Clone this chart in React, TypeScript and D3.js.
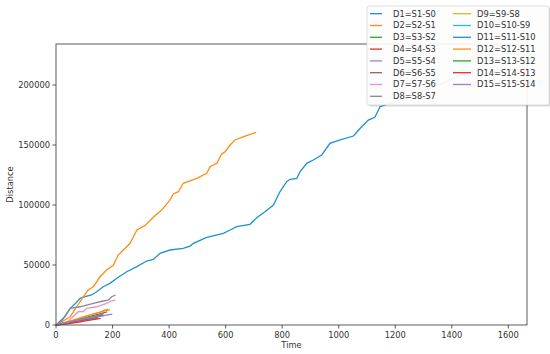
import React from "react";
import * as d3 from "d3";

// series: [time, distance]
const D1 = [[0,0],[26,5600],[50,13900],[67,17500],[85,22200],[103,23600],[126,25000],[144,27700],[167,31900],[191,34700],[215,38900],[250,44400],[286,48600],[321,53300],[344,54700],[368,59700],[403,62500],[450,63900],[474,65800],[486,68100],[533,73100],[592,76400],[616,79200],[639,81900],[686,83900],[710,89400],[739,94400],[769,100000],[792,111000],[816,119400],[828,121400],[852,122200],[863,127700],[887,134700],[910,137500],[940,141700],[969,151400],[1005,154200],[1052,157500],[1081,165200],[1105,170800],[1128,173100],[1146,181900],[1182,184700],[1250,190000],[1350,200000],[1450,210000],[1587,223000]];
const D2 = [[0,0],[14,1700],[50,6900],[73,15200],[97,23600],[114,29200],[132,31900],[156,40200],[179,45800],[203,50000],[220,58300],[238,62500],[262,68100],[286,79200],[315,83000],[345,90000],[374,95800],[403,104200],[415,109200],[433,111100],[450,118100],[498,122200],[533,126400],[545,131900],[569,134700],[586,142500],[598,144400],[616,150000],[633,154200],[669,157500],[708,160600]];
const D3 = [[0,0],[30,1500],[60,3000],[100,4500],[146,5500]];
const D4 = [[0,0],[40,1000],[80,2500],[120,4000],[158,5500]];
const D5 = [[0,0],[40,2000],[80,4500],[120,6500],[160,8000]];
const D6 = [[0,0],[50,3000],[100,6000],[150,9000],[181,11000]];
const D7 = [[0,0],[40,2500],[67,8300],[79,11100],[97,11100],[108,13900],[144,15200],[179,18100],[197,20200],[211,20800]];
const D8 = [[0,0],[14,1700],[32,6900],[50,13900],[85,15200],[132,18100],[167,20000],[185,20800],[197,23600],[211,25000]];
const D9 = [[0,0],[50,3000],[100,7000],[150,10000],[170,12500],[185,13500]];
const D10 = [[0,0],[50,2500],[100,5500],[150,8000],[170,9500]];
const D11 = [[0,0],[40,1500],[80,3500],[120,5500],[150,6500]];
const D12 = [[0,0],[40,2500],[80,5500],[130,9000],[175,12000],[190,12500]];
const D13 = [[0,0],[50,2500],[100,5000],[150,7000],[170,8000]];
const D14 = [[0,0],[50,2000],[100,4500],[150,7500],[165,8500]];
const D15 = [[0,0],[60,3000],[120,6000],[199,9000]];

const series = [D1, D2, D3, D4, D5, D6, D7, D8, D9, D10, D11, D12, D13, D14, D15];
const labels = ["D1=S1-S0","D2=S2-S1","D3=S3-S2","D4=S4-S3","D5=S5-S4","D6=S6-S5","D7=S7-S6","D8=S8-S7","D9=S9-S8","D10=S10-S9","D11=S11-S10","D12=S12-S11","D13=S13-S12","D14=S14-S13","D15=S15-S14"];
const palette = ["#1f90d0","#ff8c12","#22a832","#e62e2e","#a07bd0","#9c6258","#f08cd2","#8a8a8a","#c2c228","#1cc4dc"];
const xTicks = [0,200,400,600,800,1000,1200,1400,1600];
const yTicks = [0,50000,100000,150000,200000];

export default function App() {
  const width = 550, height = 354;
  const left = 56, right = 527, top = 44, bottom = 325;
  const x = d3.scaleLinear().domain([0, 1666]).range([left, right]);
  const y = d3.scaleLinear().domain([0, 234200]).range([bottom, top]);
  const line = d3.line<number[]>().x(d => x(d[0])).y(d => y(d[1]));
  const font = "DejaVu Sans, sans-serif";
  const txt = "#333";

  return (
    <svg width={width} height={height} style={{ position: "absolute", left: 0, top: 0, background: "#fff" }} fontFamily={font}>
      <g>
        {series.map((s, i) => (
          <path key={i} d={line(s) || ""} fill="none" stroke={palette[i % 10]} strokeWidth={1.3} />
        ))}
      </g>
      <rect x={left} y={top} width={right - left} height={bottom - top} fill="none" stroke={txt} strokeWidth={0.8} />
      {xTicks.map(t => (
        <g key={t} transform={`translate(${x(t)},${bottom})`}>
          <line y2={3.5} stroke={txt} strokeWidth={0.8} />
          <text y={13} textAnchor="middle" fontSize={8.3} fill={txt}>{t}</text>
        </g>
      ))}
      {yTicks.map(t => (
        <g key={t} transform={`translate(${left},${y(t)})`}>
          <line x2={-3.5} stroke={txt} strokeWidth={0.8} />
          <text x={-6} dy="0.32em" textAnchor="end" fontSize={8.3} fill={txt}>{t}</text>
        </g>
      ))}
      <text x={(left + right) / 2} y={348} textAnchor="middle" fontSize={8.3} fill={txt}>Time</text>
      <text transform={`translate(13,${(top + bottom) / 2}) rotate(-90)`} textAnchor="middle" fontSize={8.3} fill={txt}>Distance</text>

      {/* legend */}
      <rect x={368.5} y={7.5} width={182} height={99} rx={2} fill="#000" opacity={0.15} />
      <rect x={367} y={6} width={182} height={99} rx={2} fill="#fff" fillOpacity={0.93} stroke="#d6d6d6" strokeWidth={0.8} />
      {labels.map((lab, i) => {
        const col = i < 8 ? 0 : 1;
        const row = i < 8 ? i : i - 8;
        const ly = 13.7 + row * 11.8;
        const hx = col === 0 ? 370 : 453;
        const hl = col === 0 ? 12 : 18;
        const tx = col === 0 ? 393 : 477;
        return (
          <g key={lab}>
            <line x1={hx} x2={hx + hl} y1={ly} y2={ly} stroke={palette[i % 10]} strokeWidth={1.3} />
            <text x={tx} y={ly} dy="0.35em" fontSize={8.3} fill={txt}>{lab}</text>
          </g>
        );
      })}
    </svg>
  );
}
